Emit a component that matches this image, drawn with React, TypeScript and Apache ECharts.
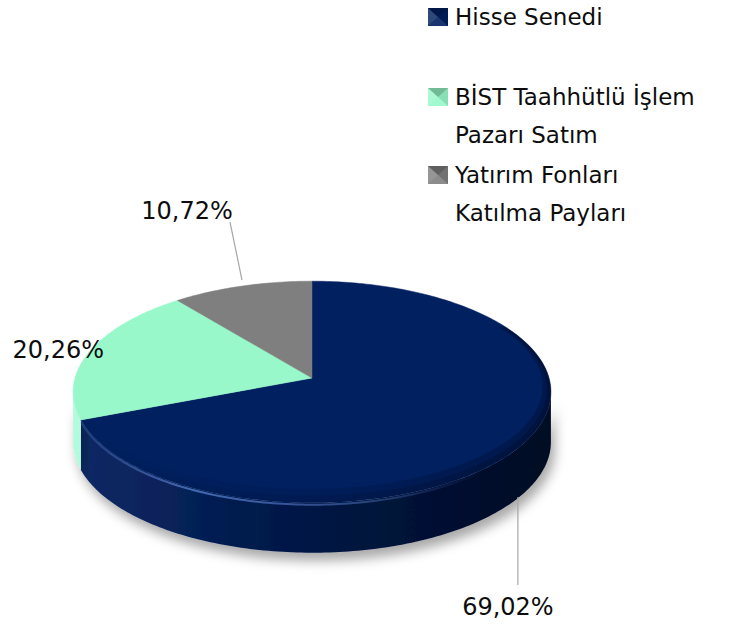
import React, { useEffect, useRef } from "react";
import * as echarts from "echarts";

const categories = ["Hisse Senedi", "BİST Taahhütlü İşlem\nPazarı Satım", "Yatırım Fonları\nKatılma Payları"];
const values = [69.02, 20.26, 10.72];

const topColors = ["#002060", "#98F8CA", "#7F7F7F"];
const sideStops = [
  [[0, "#0D2A66"], [0.45, "#001848"], [1, "#000A22"]],
  [[0, "#B4FBDD"], [1, "#86E6BA"]],
  [[0, "#9A9A9A"], [1, "#5E5E5E"]],
];
// label layout: anchor at mid angle (side bottom if front), offsets are pure styling
const labelLayout = [
  { useBottom: true, line: [[-5, 3], [-5, 91]], text: [-15, 113] },
  { useBottom: false, line: null, text: [-32, -1] },
  { useBottom: false, line: [[0, -6], [-12, -64]], text: [-55, -75] },
];
const legendTops = [17, 97, 175];

const FONT = "DejaVu Sans";
const G = { cx: 312, cy: 378, rx: 237, ry: 109, k: 0.126, depth: 50 };

const total = values.reduce((a, b) => a + b, 0);
const startAngles: number[] = [];
values.reduce((acc, v) => {
  startAngles.push(acc);
  return acc + (v / total) * 360;
}, 0);

function proj(deg: number): [number, number] {
  const t = (deg * Math.PI) / 180;
  const s = 1 / (1 + G.k * Math.cos(t));
  return [G.cx + G.rx * Math.sin(t) * s, G.cy - G.ry * Math.cos(t) * s];
}
function arc(a: number, b: number): [number, number][] {
  const pts: [number, number][] = [];
  for (let d = a; d < b; d += 1) pts.push(proj(d));
  pts.push(proj(b));
  return pts;
}
function angles(a: number, b: number): number[] {
  const out: number[] = [];
  for (let d = a; d < b; d += 1) out.push(d);
  out.push(b);
  return out;
}
const vis0 = (Math.acos(-G.k) * 180) / Math.PI;
const vis1 = 360 - vis0;
const fmt = (v: number) => v.toFixed(2).replace(".", ",") + "%";

function grad(x0: number, x1: number, stops: [number, string][]) {
  return new echarts.graphic.LinearGradient(
    x0, 0, x1, 0,
    stops.map(([o, c]) => ({ offset: o, color: c })),
    true
  );
}

function renderItem(params: any, api: any) {
  const i = params.dataIndex;
  const v = api.value(0);
  const a0 = startAngles[i];
  const a1 = a0 + (v / total) * 360;
  const children: any[] = [];
  const xL = G.cx - G.rx * 1.01;
  const xR = G.cx + G.rx * 1.01;

  const lo = Math.max(a0, vis0);
  const hi = Math.min(a1, vis1);
  if (lo < hi) {
    const topPts = arc(lo, hi);
    const botPts = topPts.map(([x, y]) => [x, y + G.depth] as [number, number]).reverse();
    children.push({
      type: "polygon",
      z2: 1,
      shape: { points: topPts.concat(botPts) },
      style: {
        fill: grad(xL, xR, sideStops[i] as [number, string][]),
        shadowBlur: 12,
        shadowColor: "rgba(0,0,0,0.34)",
        shadowOffsetX: 4,
        shadowOffsetY: 8,
      },
    });
    if (i === 0) {
      children.push({
        type: "polyline",
        z2: 12,
        shape: { points: topPts.map(([x, y]) => [x, y + 2]) },
        style: {
          fill: null,
          lineWidth: 2,
          stroke: grad(xL, xR, [
            [0, "rgba(90,130,210,0.2)"],
            [0.25, "rgba(90,130,210,0.75)"],
            [0.6, "rgba(90,130,210,0.45)"],
            [0.85, "rgba(90,130,210,0)"],
          ]),
        },
      });
    }
  }

  children.push({
    type: "polygon",
    z2: 10,
    shape: { points: [[G.cx, G.cy] as [number, number]].concat(arc(a0, a1)) },
    style: { fill: topColors[i], stroke: topColors[i], lineWidth: 0.5 },
  });

  // soft bevel darkening near the front rim of the top face
  if (i === 0 && lo < hi) {
    [14, 7].forEach((th) => {
      const angs = angles(Math.max(a0, 60), hi);
      const outer = angs.map((d) => proj(d));
      const inner = angs
        .map((d) => {
          const [x, y] = proj(d);
          const t = (d * Math.PI) / 180;
          const f = Math.max(0, -Math.cos(t) + 0.5) / 1.5;
          const sx = Math.sin(t) > 0 ? Math.sin(t) * th * 0.6 : 0;
          return [x - sx, y - th * f] as [number, number];
        })
        .reverse();
      children.push({
        type: "polygon",
        z2: 11,
        shape: { points: outer.concat(inner) },
        style: {
          fill: grad(xL, xR, [
            [0, "rgba(0,5,25,0)"],
            [0.55, "rgba(0,5,25,0.12)"],
            [1, "rgba(0,5,25,0.3)"],
          ]),
        },
      });
    });
  }

  const mid = (a0 + a1) / 2;
  const lay = labelLayout[i];
  const [mx, myTop] = proj(mid);
  const my = lay.useBottom ? myTop + G.depth : myTop;
  if (lay.line) {
    children.push({
      type: "line",
      z2: 20,
      shape: {
        x1: mx + lay.line[0][0], y1: my + lay.line[0][1],
        x2: mx + lay.line[1][0], y2: my + lay.line[1][1],
      },
      style: { stroke: "#A6A6A6", lineWidth: 1.2 },
    });
  }
  children.push({
    type: "text",
    z2: 20,
    x: mx + lay.text[0],
    y: my + lay.text[1],
    style: {
      text: fmt(v),
      fontFamily: FONT,
      fontSize: 24,
      fill: "#0D0D0D",
      align: "center",
      verticalAlign: "middle",
    },
  });
  return { type: "group", children };
}

function legendIcon(x: number, y: number, color: string) {
  const w = 20, h = 18;
  const c: [number, number] = [x + w / 2, y + h / 2];
  return [
    { type: "rect", shape: { x, y, width: w, height: h }, style: { fill: color } },
    { type: "polygon", shape: { points: [[x, y], [x + w, y], c] }, style: { fill: "rgba(0,0,0,0.25)" } },
    { type: "polygon", shape: { points: [[x, y], [x, y + h], c] }, style: { fill: "rgba(255,255,255,0.18)" } },
    { type: "polygon", shape: { points: [[x + w, y], [x + w, y + h], c] }, style: { fill: "rgba(0,0,0,0.1)" } },
    { type: "polygon", shape: { points: [[x, y + h], [x + w, y + h], c] }, style: { fill: "rgba(255,255,255,0.1)" } },
  ];
}

export default function App() {
  const ref = useRef<HTMLDivElement>(null);
  useEffect(() => {
    if (!ref.current) return;
    const chart = echarts.init(ref.current, null, { renderer: "svg" });
    const legendEls: any[] = [];
    categories.forEach((name, i) => {
      legendEls.push(...legendIcon(428, legendTops[i] - 9, topColors[i]));
      legendEls.push({
        type: "text",
        x: 455,
        y: legendTops[i] - 19,
        style: {
          text: name,
          fontFamily: FONT,
          fontSize: 23,
          lineHeight: 38,
          fill: "#0D0D0D",
          align: "left",
          verticalAlign: "top",
        },
      });
    });
    chart.setOption({
      animation: false,
      backgroundColor: "#ffffff",
      graphic: { elements: legendEls },
      series: [
        {
          type: "custom",
          coordinateSystem: "none",
          renderItem,
          data: values.map((v, i) => ({ name: categories[i], value: [v] })),
          silent: true,
        },
      ],
    });
    return () => chart.dispose();
  }, []);
  return (
    <div
      ref={ref}
      style={{ position: "fixed", left: 0, top: 0, width: 742, height: 627 }}
    />
  );
}
